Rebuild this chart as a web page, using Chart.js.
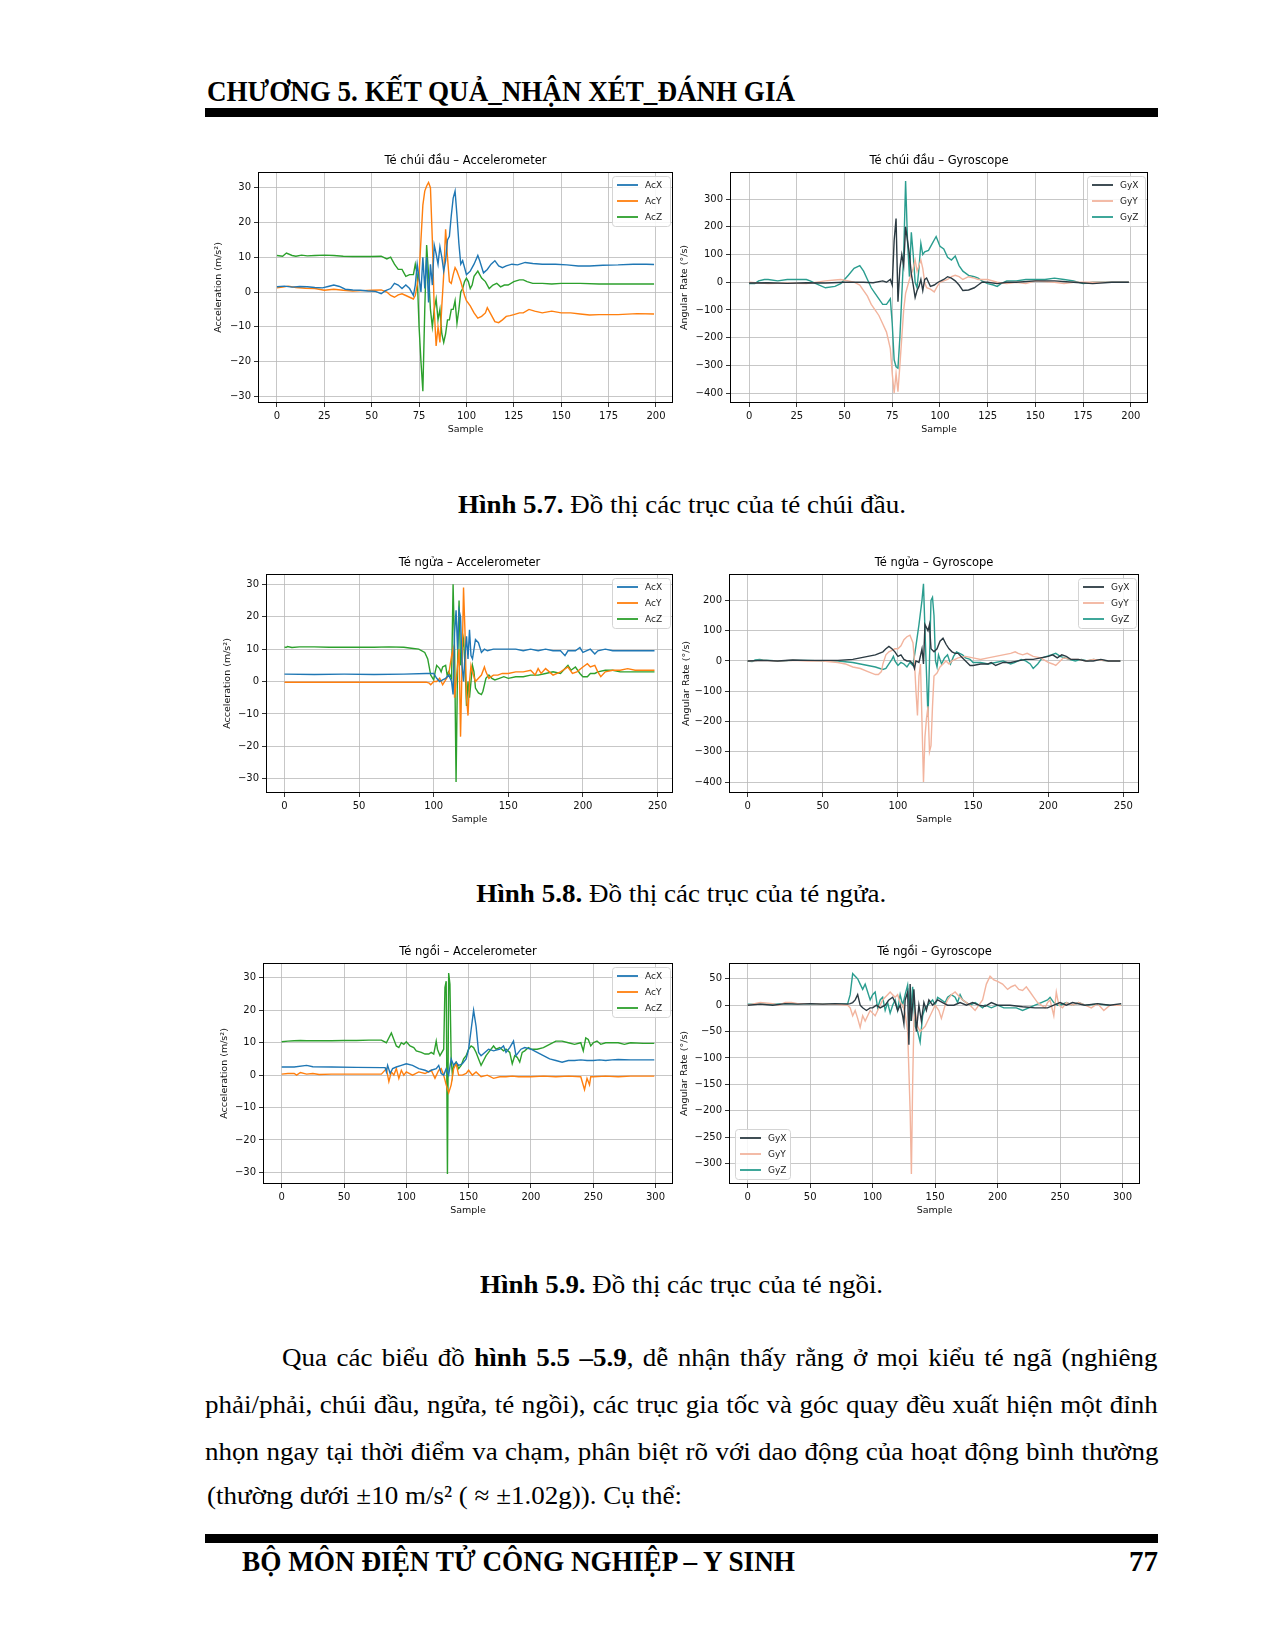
<!DOCTYPE html>
<html lang="vi">
<head>
<meta charset="utf-8">
<title>Chương 5 - Kết quả</title>
<script src="https://cdn.jsdelivr.net/npm/chart.js@4.4.0/dist/chart.umd.min.js"></script>
<style>
  body { margin: 0; background: #fff; }
  #page { position: relative; width: 1275px; height: 1650px; overflow: hidden; background: #fff;
          font-family: "Liberation Serif", "Times New Roman", serif; color: #000; }
  .abs { position: absolute; }
  .bar { left: 205px; width: 953px; height: 9px; background: #000; }
  .fit { display: inline-block; white-space: nowrap; transform-origin: left center; }
  .hdr { font-size: 29px; font-weight: bold; line-height: 30px; }
  .cap { left: 205px; width: 953px; text-align: center; line-height: 30px; font-size: 26px; }
  .cap span { display: inline-block; white-space: nowrap; transform-origin: center center; }
  .para { font-size: 26px; line-height: 30px; }
  canvas { position: absolute; }
</style>
</head>
<body>
<div id="page">
  <div class="abs hdr" style="left:207px; top:76px;"><span class="fit" id="hdrText" data-w="588">CHƯƠNG 5. KẾT QUẢ_NHẬN XÉT_ĐÁNH GIÁ</span></div>
  <div class="abs bar" style="top:108px;"></div>

  <canvas id="c1"></canvas>
  <canvas id="c2"></canvas>
  <div class="abs cap" style="top:490px;"><span data-w="448"><b>Hình 5.7.</b> Đồ thị các trục của té chúi đầu.</span></div>

  <canvas id="c3"></canvas>
  <canvas id="c4"></canvas>
  <div class="abs cap" style="top:879px;"><span data-w="410"><b>Hình 5.8.</b> Đồ thị các trục của té ngửa.</span></div>

  <canvas id="c5"></canvas>
  <canvas id="c6"></canvas>
  <div class="abs cap" style="top:1270px;"><span data-w="403"><b>Hình 5.9.</b> Đồ thị các trục của té ngồi.</span></div>

  <div class="abs para" style="left:282px; top:1343px;"><span class="fit pl" data-w="876">Qua các biểu đồ <b>hình 5.5 –5.9</b>, dễ nhận thấy rằng ở mọi kiểu té ngã (nghiêng</span></div>
  <div class="abs para" style="left:205px; top:1390px;"><span class="fit pl" data-w="953">phải/phải, chúi đầu, ngửa, té ngồi), các trục gia tốc và góc quay đều xuất hiện một đỉnh</span></div>
  <div class="abs para" style="left:205px; top:1437px;"><span class="fit pl" data-w="953">nhọn ngay tại thời điểm va chạm, phân biệt rõ với dao động của hoạt động bình thường</span></div>
  <div class="abs para" style="left:207px; top:1481px;"><span class="fit" id="lastLine" data-w="475">(thường dưới ±10 m/s² ( ≈ ±1.02g)). Cụ thể:</span></div>

  <div class="abs bar" style="top:1534px;"></div>
  <div class="abs hdr" style="left:242px; top:1546px;"><span class="fit" id="ftrText" data-w="553">BỘ MÔN ĐIỆN TỬ CÔNG NGHIỆP – Y SINH</span></div>
  <div class="abs hdr" style="right:117px; top:1546px;">77</div>
</div>

<script>
// ---- data: [sample, value] ----
const headAccX = [[0,1.5],[4,1.7],[8,1.4],[12,1.6],[16,1.5],[20,1.3],[24,1.2],[27,1.6],[30,2],[33,1.6],[36,0.8],[40,0.6],[44,0.5],[48,0.3],[52,0.2],[55,-0.5],[57,0.3],[60,1],[62,2.5],[64,2],[66,1],[68,2],[70,1],[72,-1],[73,2],[74,8],[75,4],[76,0],[77,10],[78,1],[79,10],[80,-3],[81,8],[82,2],[83,13.5],[84,11],[85,8],[86,13],[87,10],[88,6],[89,9],[90,15],[91,16],[92,22],[93,27],[94,29],[95,22],[96,14],[97,8],[98,9],[99,7],[100,5],[102,6],[104,8],[106,10.5],[107,9],[109,5.5],[111,6.5],[113,8],[115,9],[117,7.5],[119,7],[121,7.5],[124,8],[127,7.8],[131,8.5],[135,8.2],[140,8],[147,8],[153,7.8],[159,7.5],[165,7.5],[172,7.7],[180,7.8],[188,8],[195,8],[199,7.9]];
const headAccY = [[0,1.2],[3,1.4],[6,1.7],[10,1.3],[15,1.1],[20,1],[25,0.5],[30,0.8],[35,0.5],[40,0.3],[45,0.4],[50,0.5],[55,0.6],[58,0],[60,-1],[62,-1.5],[64,-0.8],[66,-0.5],[68,-1],[70,-1.5],[72,-2],[73,-1],[74,2],[75,5],[76,15],[77,25],[78,29],[79,30.5],[80,31.5],[81,30],[82,15],[83,-5],[84,-15.5],[85,-10],[86,-14.5],[87,-4],[88,5],[89,18],[90,10],[91,3],[92,2.5],[93,5],[94,7],[95,6],[96,4.5],[97,3],[98,1],[99,-1],[100,-2.5],[102,-4],[104,-6],[106,-7.5],[108,-7],[110,-6],[111,-4.5],[113,-6.5],[115,-8.5],[117,-8.8],[119,-8],[121,-7],[123,-6.8],[125,-6.5],[128,-6],[130,-6],[133,-5],[136,-5.5],[140,-6],[145,-5.5],[150,-6],[155,-6],[160,-6.3],[165,-6.6],[170,-6.5],[180,-6.5],[190,-6.2],[199,-6.3]];
const headAccZ = [[0,10.5],[3,10.3],[5,11.2],[8,10.5],[10,10.3],[13,10.6],[16,10.4],[20,10.5],[25,10.6],[30,10.5],[35,10.3],[40,10.2],[45,10.2],[50,10.2],[55,10.3],[58,9.5],[60,10],[62,8],[64,6.5],[66,6.5],[68,4.5],[70,5],[72,5],[73,8],[74,5],[75,-10],[76,-20],[77,-28.5],[78,-5],[79,13.5],[80,5],[81,-5],[82,-10],[83,-5],[84,-2],[85,-8],[86,-5],[87,-12],[88,-14.5],[89,-12],[90,-8],[91,-8],[92,-5],[93,-5],[94,-2.5],[95,-9],[96,-5],[97,0],[98,1],[99,3],[100,4],[101,3],[102,1],[103,2],[104,4.5],[106,6],[108,4],[110,3],[112,1],[114,2],[116,2.5],[118,1.5],[120,2],[122,2],[125,3],[128,3.5],[130,3.5],[132,3],[135,2.5],[140,2.5],[145,2.3],[150,2.5],[160,2.5],[170,2.3],[180,2.3],[190,2.3],[199,2.3]];

const headGyX = [[0,-3],[10,-2],[20,-4],[30,-2],[40,-3],[50,0],[60,0],[65,-2],[70,5],[72,0],[74,10],[75,-10],[76,150],[77,230],[78,-70],[79,50],[80,100],[81,60],[82,200],[83,150],[84,100],[85,30],[86,-10],[87,-55],[88,-30],[89,-15],[90,10],[91,-30],[92,10],[93,15],[94,0],[95,-15],[97,-10],[99,0],[102,10],[104,20],[106,15],[108,5],[110,-10],[112,-30],[115,-28],[118,-20],[120,-10],[122,0],[125,0],[130,-5],[135,0],[140,0],[150,5],[160,5],[170,0],[180,-5],[190,0],[199,0]];
const headGyY = [[0,0],[10,-5],[20,-3],[30,-5],[40,5],[45,8],[48,10],[52,5],[55,0],[58,-10],[60,-30],[62,-50],[64,-80],[66,-100],[68,-120],[70,-150],[72,-180],[74,-240],[75,-330],[76,-400],[77,-330],[78,-395],[79,-300],[80,-200],[81,-100],[82,-40],[84,10],[86,50],[87,80],[88,40],[89,60],[90,80],[91,50],[92,0],[93,-20],[95,-25],[97,-35],[99,-10],[100,0],[102,5],[104,10],[106,20],[108,25],[110,20],[112,10],[115,20],[118,15],[120,10],[125,10],[130,0],[135,-5],[140,0],[145,-5],[150,5],[160,0],[165,-5],[170,0],[180,0],[190,0],[199,0]];
const headGyZ = [[0,-5],[3,-5],[5,5],[8,10],[10,10],[15,5],[20,10],[25,10],[30,10],[32,5],[35,-5],[40,-20],[45,-15],[48,-5],[50,10],[52,25],[55,50],[58,60],[60,40],[62,10],[64,-20],[66,-40],[68,-60],[70,-80],[72,-80],[74,-60],[75,-150],[76,-280],[77,-305],[78,-310],[79,-200],[80,-50],[81,100],[82,365],[83,150],[84,20],[85,180],[86,100],[87,0],[88,-20],[89,50],[90,140],[91,100],[92,110],[94,115],[96,140],[98,165],[100,130],[102,120],[104,90],[106,80],[108,95],[110,60],[112,40],[115,25],[118,20],[120,15],[122,5],[125,-5],[128,-10],[130,-15],[132,-5],[135,5],[140,5],[145,10],[150,10],[155,10],[160,15],[165,10],[170,5],[175,-5],[180,0],[190,0],[199,0]];

const backAccX = [[0,2.3],[20,2.2],[40,2.3],[60,2.2],[80,2.3],[95,2.5],[100,2.5],[102,1],[104,0],[106,0.5],[108,1],[110,2],[112,0],[113,-4],[114,15],[115,22],[116,10],[117,22],[118,20],[119,5],[120,0],[121,8],[122,14],[123,7],[124,16],[125,8],[126,7],[127,10],[128,13],[130,12],[132,9],[134,10],[136,9.5],[140,10],[145,10],[150,10],[155,10],[160,9.5],[165,10],[170,9.5],[175,10],[180,9.5],[185,9.5],[188,8],[190,9.5],[195,9.5],[198,10.5],[200,9],[205,10],[208,8.5],[210,9.5],[215,10],[220,9.5],[230,9.5],[240,9.5],[248,9.5]];
const backAccY = [[0,-0.2],[20,-0.2],[40,-0.2],[60,-0.2],[80,-0.2],[95,-0.2],[97,-0.5],[98,-1],[100,0],[102,0],[104,1],[106,-1],[108,0.5],[110,2],[111,5],[112,8],[113,10],[114,-5],[116,5],[117,10],[118,-17],[119,5],[120,29],[121,15],[122,-5],[123,-10.5],[124,0],[125,5],[126,3],[128,0],[130,1],[132,2],[134,4.5],[135,3],[137,1],[140,2],[143,2],[146,2.5],[150,2.5],[155,3],[160,3],[165,3.5],[168,2],[170,4],[172,2.5],[175,4],[180,2],[185,3],[190,4.5],[193,2.5],[196,3],[200,4.5],[203,5.5],[205,4.5],[208,5],[210,3],[212,1.5],[215,3],[220,3.5],[225,3.5],[230,4],[235,3.5],[240,3.5],[248,3.5]];
const backAccZ = [[0,10.7],[1,10.5],[2,10.8],[5,10.5],[10,10.7],[20,10.7],[30,10.6],[40,10.6],[50,10.6],[60,10.6],[70,10.7],[80,10.6],[85,10.3],[90,10],[94,9],[96,7],[98,2],[100,0.5],[101,3],[102,5],[104,4],[105,3],[106,4.5],[108,5],[109,2],[110,3],[112,1],[113,30],[114,10],[115,-31],[116,5],[117,25],[118,5],[119,10],[120,13],[121,5],[122,-7.5],[123,0],[124,-5],[125,0],[126,5],[127,3],[128,-2],[130,-3.5],[132,-4],[133,-3],[134,-1],[135,1],[137,2],[139,1],[141,0.5],[144,1],[147,1.5],[150,1],[155,1.5],[160,1.5],[165,2],[170,2],[175,2.5],[180,3],[185,2.5],[188,4],[190,5],[192,3.5],[195,4.5],[198,2.5],[200,1.5],[203,1.5],[205,2.5],[208,2.5],[210,3],[215,3.5],[220,3.5],[225,3],[230,3],[240,3],[248,3]];

const backGyX = [[0,0],[10,2],[20,0],[30,3],[40,2],[50,2],[60,2],[70,5],[75,10],[80,15],[85,20],[90,30],[92,40],[94,48],[96,40],[98,30],[100,15],[102,20],[104,5],[106,0],[108,0],[110,-10],[111,-25],[112,0],[114,-5],[116,40],[117,-10],[118,120],[119,110],[120,100],[121,120],[122,40],[124,30],[126,40],[128,65],[130,75],[132,55],[134,40],[136,30],[138,25],[140,25],[142,15],[144,5],[146,-5],[148,-15],[150,-15],[155,-10],[160,-10],[162,-5],[165,-15],[170,-5],[175,-5],[180,0],[185,5],[190,5],[195,10],[200,15],[203,20],[206,10],[209,20],[212,15],[215,5],[220,5],[225,0],[230,0],[235,5],[240,0],[248,0]];
const backGyY = [[0,0],[10,2],[20,0],[30,2],[40,0],[50,0],[60,-5],[65,-10],[70,-20],[75,-25],[80,-35],[85,-45],[87,-45],[89,-35],[90,-10],[92,20],[94,30],[96,35],[98,40],[100,40],[102,50],[104,70],[106,80],[108,85],[110,60],[111,0],[112,-100],[113,-180],[114,-50],[115,-10],[116,-200],[117,-400],[118,-250],[119,-190],[120,-150],[121,-300],[122,-280],[123,-150],[124,-50],[126,-40],[128,-20],[130,-10],[132,0],[134,-10],[136,0],[138,5],[140,10],[145,15],[150,10],[155,5],[160,10],[165,15],[170,20],[175,25],[178,30],[180,25],[183,20],[186,25],[190,15],[195,10],[200,-5],[203,-10],[205,-15],[208,0],[210,10],[215,5],[220,5],[225,0],[230,5],[240,0],[248,0]];
const backGyZ = [[0,0],[3,-2],[5,3],[8,5],[10,3],[15,2],[20,0],[30,2],[40,2],[50,0],[60,0],[70,-5],[75,-10],[80,-15],[85,-20],[90,-28],[92,-25],[94,-10],[96,5],[97,15],[98,0],[100,-15],[102,-5],[104,-10],[106,-20],[108,-5],[110,-15],[112,50],[114,120],[116,200],[117,255],[118,100],[119,-40],[120,-185],[121,0],[122,200],[123,210],[124,150],[125,0],[126,-20],[127,20],[129,-10],[131,10],[133,20],[135,-10],[137,15],[139,30],[141,25],[143,20],[145,10],[148,5],[150,-5],[155,-5],[160,-10],[165,-5],[170,0],[175,-10],[178,-5],[182,5],[185,0],[188,-10],[190,-25],[193,-10],[196,10],[199,15],[202,20],[205,25],[208,15],[211,10],[214,5],[218,0],[222,5],[226,0],[230,5],[240,0],[248,0]];

const sitAccX = [[0,2.5],[10,2.5],[20,3],[25,2.6],[40,2.5],[60,2.4],[80,2.3],[83,2.3],[84,1],[85,3],[87,0.5],[89,2],[92,2.5],[96,3],[100,3.5],[105,3],[110,2],[115,1.5],[118,1],[120,1.5],[124,2],[126,3],[128,0.5],[130,0],[132,2],[134,0],[136,5],[138,3],[140,4],[142,3],[145,3.5],[148,5],[150,8],[152,14],[154,20],[156,15],[158,7],[160,6],[163,7],[166,8],[170,7.5],[175,8],[178,9],[180,7],[183,8.5],[186,10.5],[188,6],[190,7],[192,8],[195,8.5],[200,8],[205,7],[210,6],[215,5],[220,4.5],[225,4],[230,4.5],[235,4.5],[240,4.7],[245,4.5],[250,4.5],[255,4.7],[260,4.5],[265,4.7],[270,4.8],[280,4.7],[290,4.7],[299,4.7]];
const sitAccY = [[0,0.3],[5,0.5],[10,0.5],[12,0],[15,0.8],[20,0.3],[25,0.5],[30,0.2],[40,0.3],[50,0.3],[60,0.3],[70,0.3],[80,0.3],[84,2],[86,-2],[88,1],[90,0],[92,2],[94,-1],[96,1.5],[98,0],[100,1],[105,0],[110,1],[115,0.5],[120,1.5],[123,-1],[126,1.5],[128,2],[130,0],[132,-3],[134,-5.5],[136,-3],[138,2],[140,3.5],[142,0],[145,0],[148,0.5],[150,1.5],[153,0],[156,1],[160,-0.5],[165,0],[170,-1],[175,-0.5],[180,-0.5],[185,-0.3],[190,-0.5],[200,-0.5],[210,-0.3],[220,-0.5],[230,-0.3],[240,-0.5],[243,-4.5],[245,-1],[247,-3],[248,-0.5],[250,-0.5],[260,-0.3],[270,-0.5],[280,-0.3],[290,-0.3],[299,-0.3]];
const sitAccZ = [[0,10.3],[5,10.5],[10,10.6],[15,10.7],[20,10.6],[30,10.6],[40,10.6],[50,10.7],[60,10.7],[70,10.8],[80,10.8],[84,10],[88,13],[90,11],[92,9],[94,8.5],[96,10],[98,9.5],[100,10.3],[103,9],[106,8.5],[108,7.5],[112,7],[115,6.5],[118,6.5],[120,7],[122,6.5],[124,10.5],[125,8],[127,6],[130,8],[131,27],[132,29],[133,-30.5],[134,31.5],[135,28],[136,5],[137,0],[138,3],[140,4],[142,2],[144,3],[146,5],[148,6],[150,8],[152,9],[154,8.5],[156,7],[158,5],[160,3],[162,4.5],[164,6],[166,7],[168,8],[170,9],[172,8],[175,8.5],[178,7.5],[180,8],[183,7],[185,3.5],[187,6],[189,5.5],[191,4],[193,7],[195,7.5],[198,8.5],[200,8],[205,8],[210,8.5],[215,9.5],[220,10.5],[225,10.5],[230,10],[235,9.5],[240,10],[242,7.5],[244,11.5],[246,11],[248,9],[250,10],[253,10.5],[256,9.5],[260,10],[265,10],[270,10],[275,9.5],[280,10],[290,9.8],[299,9.8]];

const sitGyX = [[0,0],[10,2],[20,0],[30,3],[40,2],[50,3],[60,2],[70,3],[80,2],[82,3],[84,5],[86,10],[88,20],[90,0],[92,-5],[95,-10],[98,-5],[100,-5],[103,0],[106,-5],[110,0],[113,10],[116,15],[118,5],[120,-10],[122,0],[124,-20],[125,-35],[126,10],[128,25],[129,-75],[130,40],[131,-30],[133,30],[135,-50],[137,0],[139,-30],[141,5],[143,-10],[145,10],[148,0],[152,10],[156,5],[160,0],[165,0],[170,5],[175,0],[180,5],[185,0],[190,-2],[195,5],[200,0],[210,0],[220,-3],[230,-5],[240,-5],[245,0],[250,5],[255,0],[260,5],[270,0],[280,3],[290,0],[299,3]];
const sitGyY = [[0,0],[10,5],[20,3],[25,0],[30,5],[35,5],[40,3],[50,3],[60,2],[70,2],[80,0],[82,-5],[84,-20],[86,-10],[88,-25],[90,-42],[92,-20],[94,-30],[96,-20],[98,-10],[100,-15],[102,-20],[104,-10],[106,0],[108,10],[110,15],[112,20],[114,25],[116,20],[118,15],[120,20],[122,5],[124,0],[126,-15],[128,-50],[130,-200],[131,-320],[132,-150],[133,-30],[134,-10],[136,-40],[138,-50],[140,-45],[142,-40],[144,-30],[146,-20],[148,-10],[150,0],[153,-10],[155,-25],[158,0],[160,10],[163,20],[166,25],[168,20],[170,15],[172,10],[175,5],[178,0],[182,-10],[185,0],[188,10],[191,40],[194,55],[197,48],[200,45],[204,40],[208,30],[211,35],[214,38],[217,30],[220,28],[223,35],[226,25],[229,15],[232,5],[235,0],[238,-5],[240,5],[242,10],[245,-20],[247,25],[249,0],[252,-5],[255,5],[260,0],[265,5],[270,0],[275,-5],[280,3],[285,-10],[290,0],[299,0]];
const sitGyZ = [[0,2],[20,2],[40,3],[60,2],[80,3],[82,20],[84,60],[86,55],[88,50],[90,40],[92,30],[94,40],[96,25],[98,10],[100,20],[102,25],[104,-5],[106,10],[108,15],[110,-10],[112,5],[114,-15],[116,0],[118,10],[120,-10],[122,20],[124,0],[126,20],[128,38],[130,-30],[132,35],[134,-40],[136,-50],[138,-70],[140,-20],[142,-5],[144,0],[146,5],[148,10],[150,0],[152,15],[155,10],[158,5],[160,15],[163,20],[166,15],[168,5],[170,20],[172,10],[175,5],[178,0],[182,5],[185,0],[188,-5],[190,0],[195,-5],[200,0],[205,-5],[210,-5],[215,-5],[220,-10],[225,-5],[230,0],[235,5],[240,10],[242,15],[245,5],[248,0],[250,0],[255,5],[260,0],[265,5],[270,0],[280,2],[290,0],[299,0]];

// ---- labels and ticks ----
const accLabels = ['AcX', 'AcY', 'AcZ'];
const gyroLabels = ['GyX', 'GyY', 'GyZ'];
const headXTicks = [0, 25, 50, 75, 100, 125, 150, 175, 200];
const backXTicks = [0, 50, 100, 150, 200, 250];
const sitXTicks = [0, 50, 100, 150, 200, 250, 300];
const accYTicks = [-30, -20, -10, 0, 10, 20, 30];
const headGyroTicks = [-400, -300, -200, -100, 0, 100, 200, 300];
const backGyroTicks = [-400, -300, -200, -100, 0, 100, 200];
const sitGyroTicks = [-300, -250, -200, -150, -100, -50, 0, 50];

const accColors = ['#1f77b4', '#ff7f0e', '#2ca02c'];
const gyroColors = ['#2b3a42', '#f2b49e', '#2a9d8f'];

// plot box = [left, top, right, bottom] of the axes on the page
const panels = [
    { id: 'c1', title: 'Té chúi đầu – Accelerometer', yTitle: 'Acceleration (m/s²)', series: [headAccX, headAccY, headAccZ],
      labels: accLabels, colors: accColors, box: [258, 172, 673, 403], x: [-10, 209], y: [-31.9, 34.5], xt: headXTicks, yt: accYTicks, gap: 39, legend: 'tr' },
    { id: 'c2', title: 'Té chúi đầu – Gyroscope', yTitle: 'Angular Rate (°/s)', series: [headGyX, headGyY, headGyZ],
      labels: gyroLabels, colors: gyroColors, box: [730, 172, 1148, 403], x: [-10, 209], y: [-436, 398], xt: headXTicks, yt: headGyroTicks, gap: 45, legend: 'tr' },
    { id: 'c3', title: 'Té ngửa – Accelerometer', yTitle: 'Acceleration (m/s²)', series: [backAccX, backAccY, backAccZ],
      labels: accLabels, colors: accColors, box: [266, 574, 673, 793], x: [-12.4, 260.4], y: [-34.4, 33.2], xt: backXTicks, yt: accYTicks, gap: 38, legend: 'tr' },
    { id: 'c4', title: 'Té ngửa – Gyroscope', yTitle: 'Angular Rate (°/s)', series: [backGyX, backGyY, backGyZ],
      labels: gyroLabels, colors: gyroColors, box: [729, 574, 1139, 793], x: [-12.4, 260.4], y: [-436, 287], xt: backXTicks, yt: backGyroTicks, gap: 42, legend: 'tr' },
    { id: 'c5', title: 'Té ngồi – Accelerometer', yTitle: 'Acceleration (m/s²)', series: [sitAccX, sitAccY, sitAccZ],
      labels: accLabels, colors: accColors, box: [263, 963, 673, 1184], x: [-15, 314], y: [-33.6, 34.6], xt: sitXTicks, yt: accYTicks, gap: 38, legend: 'tr' },
    { id: 'c6', title: 'Té ngồi – Gyroscope', yTitle: 'Angular Rate (°/s)', series: [sitGyX, sitGyY, sitGyZ],
      labels: gyroLabels, colors: gyroColors, box: [729, 963, 1140, 1184], x: [-15, 314], y: [-339, 80], xt: sitXTicks, yt: sitGyroTicks, gap: 44, legend: 'bl' }
];

const Y_W = 62, TOP_H = 28, X_H = 40, RIGHT_PAD = 12;
const tickFont = { family: 'DejaVu Sans', size: 10 };
const axisFont = { family: 'DejaVu Sans', size: 9.5, lineHeight: 1.2 };

// axes frame, title and legend, drawn like matplotlib
const axesDecor = {
    id: 'axesDecor',
    afterDraw(chart, args, opts) {
        const { ctx, chartArea: a } = chart;
        ctx.save();
        ctx.strokeStyle = '#000';
        ctx.lineWidth = 1;
        ctx.strokeRect(a.left + 0.5, a.top + 0.5, a.right - a.left - 1, a.bottom - a.top - 1);

        ctx.fillStyle = '#000';
        ctx.font = '11.5px "DejaVu Sans"';
        ctx.textAlign = 'center';
        ctx.textBaseline = 'middle';
        ctx.fillText(opts.title, (a.left + a.right) / 2, a.top - 11);

        const w = opts.legend === 'tr' ? 58 : 55, h = 50;
        const bx = opts.legend === 'tr' ? a.right - 3 - w : a.left + 6;
        const by = opts.legend === 'tr' ? a.top + 4 : a.bottom - 5 - h;
        ctx.beginPath();
        ctx.roundRect(bx + 0.5, by + 0.5, w, h, 3);
        ctx.fillStyle = 'rgba(255,255,255,0.85)';
        ctx.fill();
        ctx.strokeStyle = '#d4d4d4';
        ctx.lineWidth = 1;
        ctx.stroke();
        ctx.font = '9px "DejaVu Sans"';
        ctx.textAlign = 'left';
        opts.labels.forEach((lab, i) => {
            const yy = by + 9 + i * 16;
            ctx.strokeStyle = opts.colors[i];
            ctx.lineWidth = 1.8;
            ctx.beginPath();
            ctx.moveTo(bx + 5, yy);
            ctx.lineTo(bx + 26, yy);
            ctx.stroke();
            ctx.fillStyle = '#222';
            ctx.fillText(lab, bx + 33, yy + 0.5);
        });
        ctx.restore();
    }
};

function makeChart(p) {
    const [l, t, r, b] = p.box;
    const canvas = document.getElementById(p.id);
    const w = (r - l) + Y_W + RIGHT_PAD, h = (b - t) + TOP_H + X_H;
    canvas.width = w; canvas.height = h;
    canvas.style.width = w + 'px'; canvas.style.height = h + 'px';
    canvas.style.left = (l - Y_W) + 'px';
    canvas.style.top = (t - TOP_H) + 'px';

    const minus = v => String(v).replace('-', '\u2212');
    new Chart(canvas.getContext('2d'), {
        type: 'line',
        data: {
            datasets: p.series.map((s, i) => ({
                label: p.labels[i],
                data: s.map(([x, y]) => ({ x: x, y: y })),
                borderColor: p.colors[i],
                borderWidth: 1.4,
                pointRadius: 0,
                tension: 0,
                fill: false
            }))
        },
        options: {
            responsive: false,
            animation: false,
            events: [],
            layout: { padding: { left: 0, right: RIGHT_PAD, top: TOP_H, bottom: 0 } },
            plugins: {
                legend: { display: false },
                tooltip: { enabled: false },
                axesDecor: { title: p.title, labels: p.labels, colors: p.colors, legend: p.legend }
            },
            scales: {
                x: {
                    type: 'linear', min: p.x[0], max: p.x[1],
                    afterFit: s => { s.height = X_H; },
                    afterBuildTicks: s => { s.ticks = p.xt.map(v => ({ value: v })); },
                    border: { display: false },
                    grid: { color: '#b9b9b9', lineWidth: 0.8, tickColor: '#000', tickLength: 4, tickWidth: 0.8 },
                    ticks: { font: tickFont, color: '#111', padding: 3, maxRotation: 0, autoSkip: false, callback: minus },
                    title: { display: true, text: 'Sample', font: axisFont, color: '#111', padding: { top: 0, bottom: 8 } }
                },
                y: {
                    type: 'linear', min: p.y[0], max: p.y[1],
                    afterFit: s => { s.width = Y_W; },
                    afterBuildTicks: s => { s.ticks = p.yt.map(v => ({ value: v })); },
                    border: { display: false },
                    grid: { color: '#b9b9b9', lineWidth: 0.8, tickColor: '#000', tickLength: 4, tickWidth: 0.8 },
                    ticks: { font: tickFont, color: '#111', padding: 3, autoSkip: false, callback: minus },
                    title: { display: true, text: p.yTitle, font: axisFont, color: '#111',
                             padding: { top: Y_W - p.gap - 5.7, bottom: 0 } }
                }
            }
        },
        plugins: [axesDecor]
    });
}

// squeeze page text to the widths of the scanned page
function fitText() {
    document.querySelectorAll('.fit:not(.pl)').forEach(el => {
        const natural = el.getBoundingClientRect().width;
        el.style.transform = 'scaleX(' + (el.dataset.w / natural) + ')';
    });
    const last = document.getElementById('lastLine');
    const sx = last.dataset.w / last.scrollWidth;
    document.querySelectorAll('.pl').forEach(el => {
        const natural = el.scrollWidth;
        const spaces = (el.textContent.match(/ /g) || []).length;
        const extra = (el.dataset.w / sx - natural) / spaces;
        el.style.wordSpacing = extra + 'px';
        el.style.transform = 'scaleX(' + sx + ')';
    });
    document.querySelectorAll('.cap span').forEach(el => {
        const natural = el.getBoundingClientRect().width;
        el.style.transform = 'scaleX(' + (el.dataset.w / natural) + ')';
    });
}

document.addEventListener('DOMContentLoaded', function () {
    panels.forEach(makeChart);
    fitText();
});
</script>
</body>
</html>
